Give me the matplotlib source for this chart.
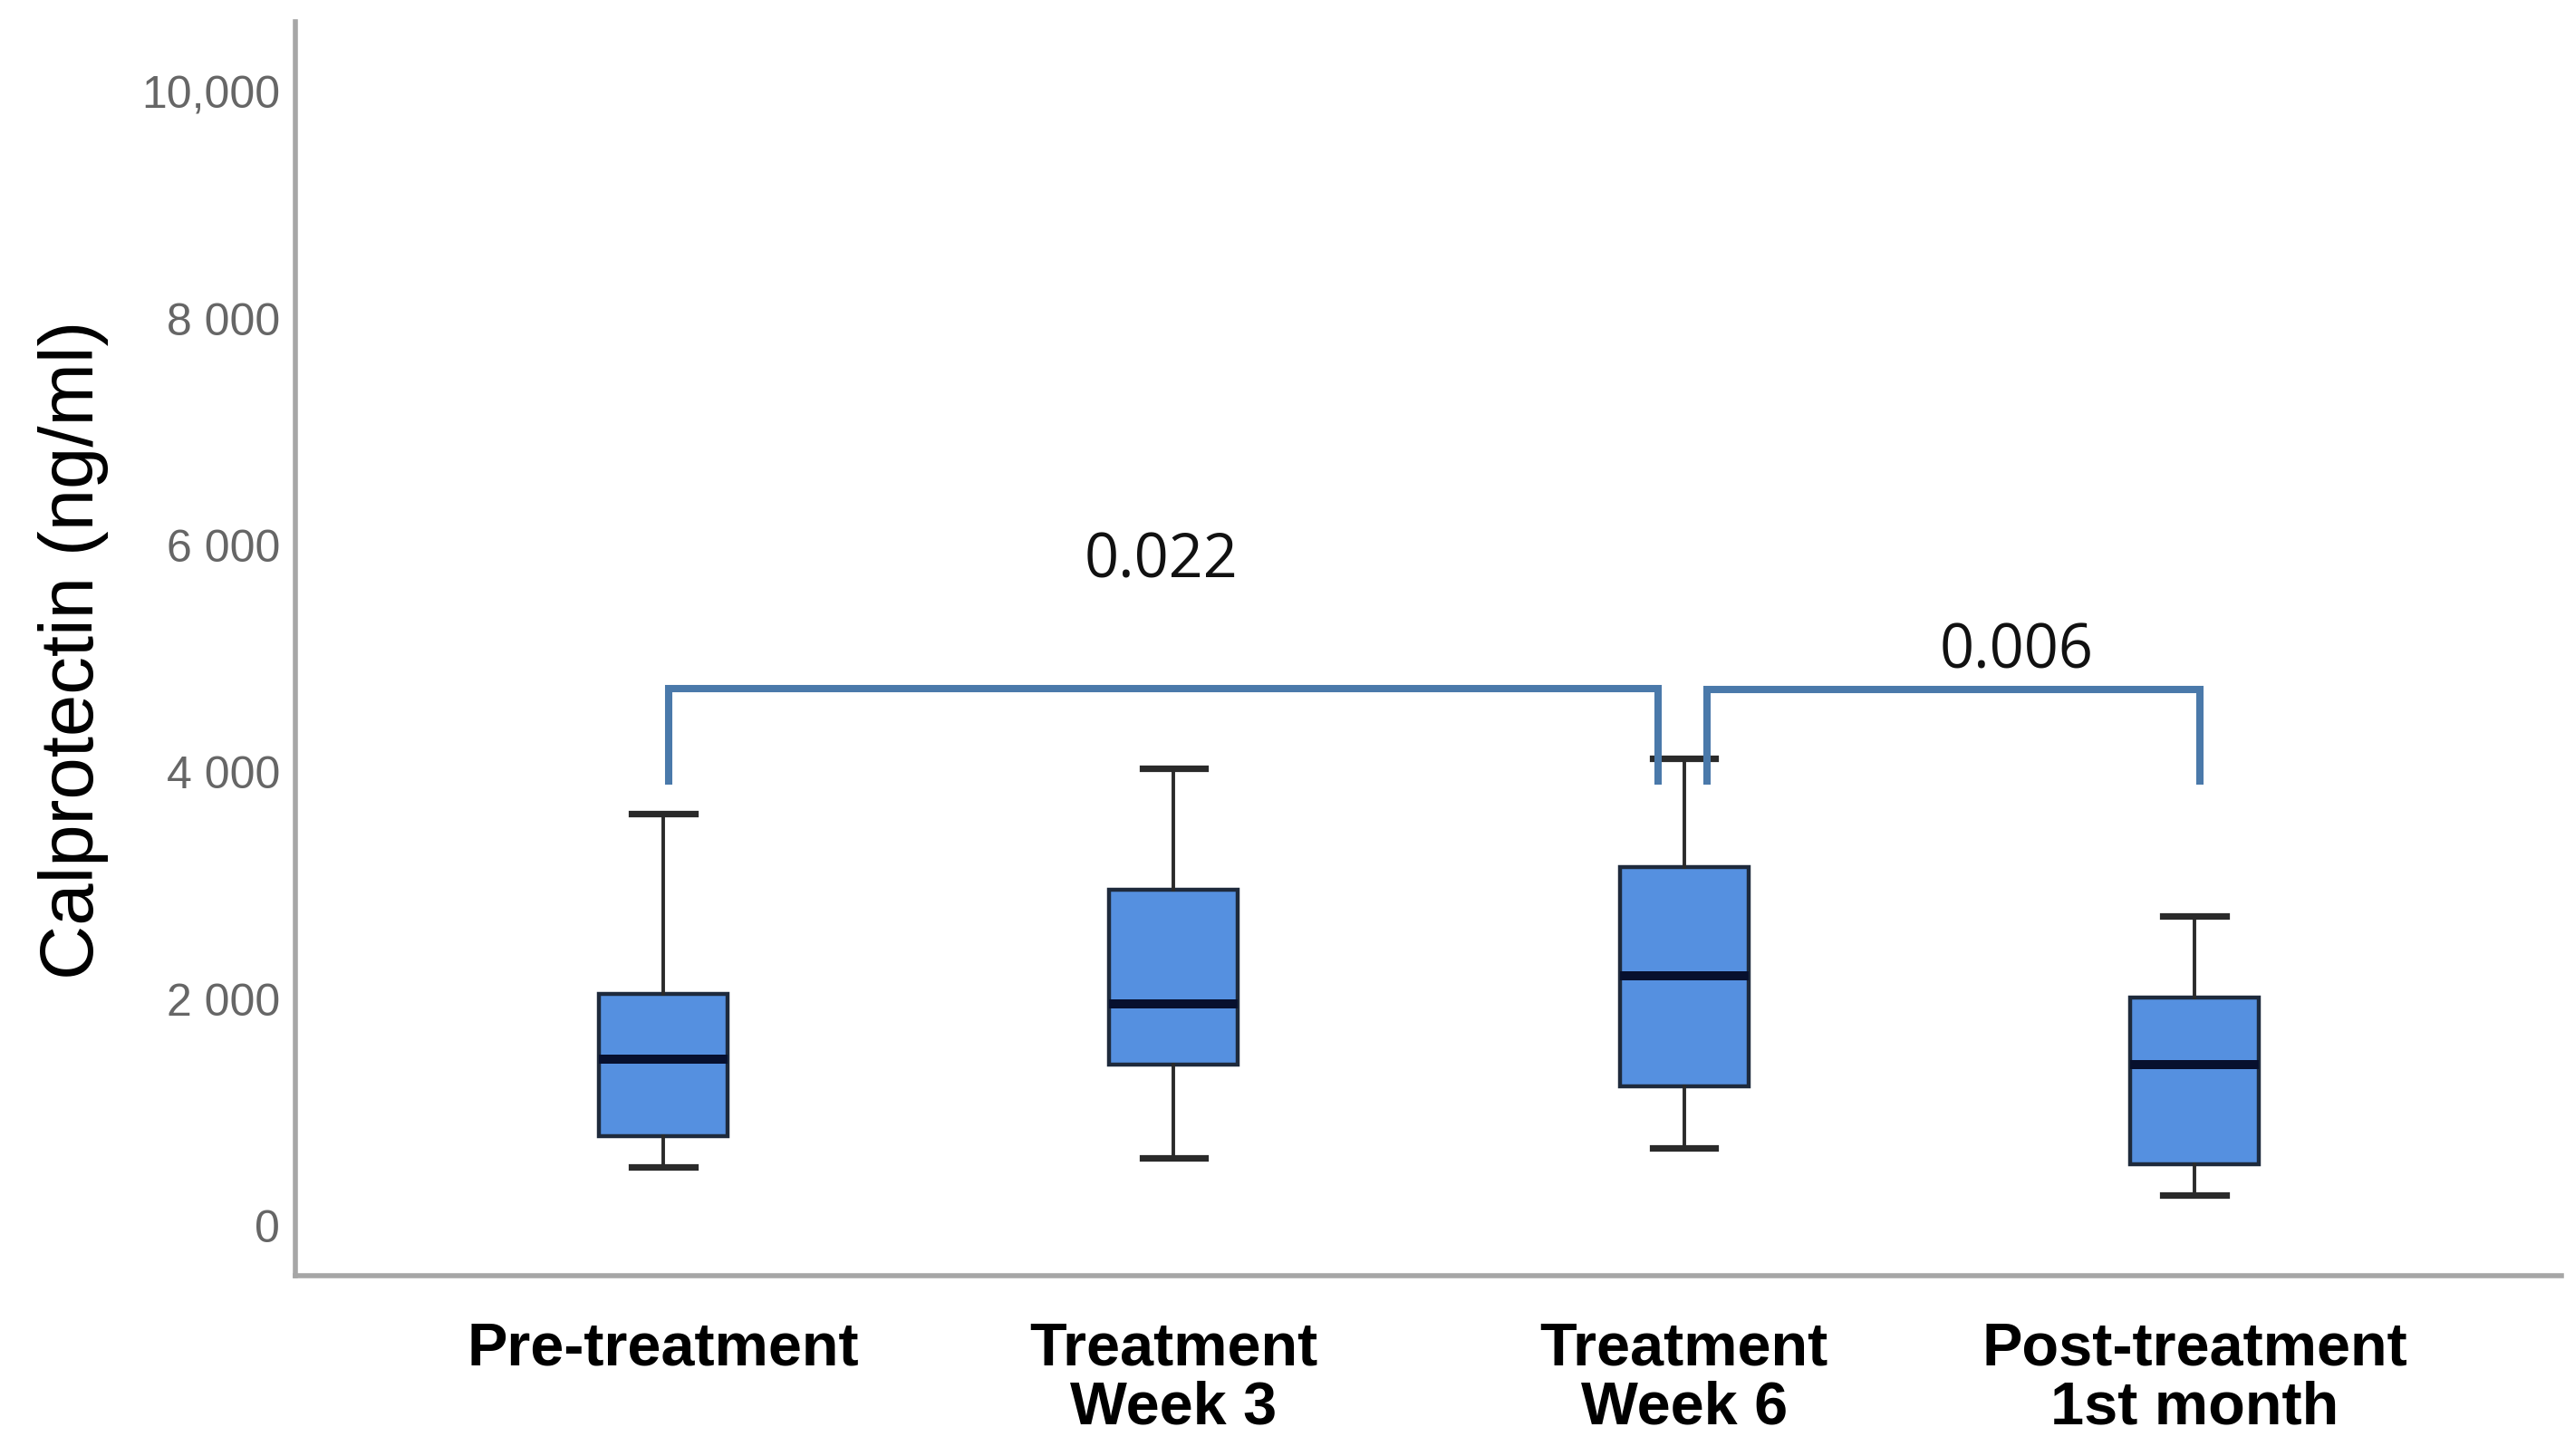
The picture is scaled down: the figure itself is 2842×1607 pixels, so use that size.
import matplotlib
matplotlib.use("Agg")
import matplotlib.pyplot as plt
from matplotlib.ticker import FixedLocator

# ---- data ----
categories = ["Pre-treatment", "Treatment\nWeek 3", "Treatment\nWeek 6", "Post-treatment\n1st month"]
whisker_low = [511, 594, 678, 265]
q1 = [787, 1413, 1220, 538]
median = [1463, 1952, 2195, 1413]
q3 = [2042, 2957, 3157, 2008]
whisker_high = [3625, 4025, 4115, 2724]

y_ticks = [0, 2000, 4000, 6000, 8000, 10000]
y_tick_labels = ["0", "2 000", "4 000", "6 000", "8 000", "10,000"]

# significance brackets
bracket_left = [0.01, 2.045]
bracket_right = [1.95, 3.01]
bracket_top = [4730, 4720]
bracket_bottom = [3880, 3880]
p_labels = ["0.022", "0.006"]
p_label_x = [0.975, 2.652]
p_label_y = [5860, 5060]

fig = plt.figure(figsize=(14.21, 8.04), dpi=200)
ax = fig.add_axes([0.1147, 0.1238, 0.88, 0.8607])

stats = []
for i, name in enumerate(categories):
    stats.append(dict(label=name, whislo=whisker_low[i], q1=q1[i], med=median[i],
                      q3=q3[i], whishi=whisker_high[i], fliers=[]))

positions = list(range(len(categories)))
bp = ax.bxp(stats, positions=positions, widths=0.252, patch_artist=True,
            showfliers=False,
            boxprops=dict(facecolor="#5590e0", edgecolor="#1e2a3c", linewidth=1.6),
            medianprops=dict(color="#07102e", linewidth=3.6),
            whiskerprops=dict(color="#2a2a2a", linewidth=1.4),
            capprops=dict(color="#2a2a2a", linewidth=2.6),
            capwidths=0.123)

bracket_color = "#4a79aa"
for i in range(len(p_labels)):
    ax.plot([bracket_left[i], bracket_left[i], bracket_right[i], bracket_right[i]],
            [bracket_bottom[i], bracket_top[i], bracket_top[i], bracket_bottom[i]],
            color=bracket_color, linewidth=2.9, solid_joinstyle="miter",
            solid_capstyle="butt")
    ax.text(p_label_x[i], p_label_y[i], p_labels[i], ha="center", va="center",
            fontsize=24, family="Open Sans", color="#111111")

ax.set_xlim(-0.721, 3.719)
ax.set_ylim(-445, 10610)

ax.yaxis.set_major_locator(FixedLocator(y_ticks))
ax.set_yticklabels(y_tick_labels, fontsize=18, color="#666666", family="Liberation Sans")
ax.set_xticks(positions)
ax.set_xticklabels(categories, fontsize=24, fontweight="bold", family="Liberation Sans",
                   linespacing=1.05)
ax.tick_params(axis="y", length=0, pad=6)
ax.tick_params(axis="x", length=0, pad=18)

ax.set_ylabel("Calprotectin (ng/ml)", fontsize=30, family="Liberation Sans", labelpad=13)

for side in ["top", "right"]:
    ax.spines[side].set_visible(False)
for side in ["left", "bottom"]:
    ax.spines[side].set_color("#a6a6a6")
    ax.spines[side].set_linewidth(2.0)

fig.savefig("out.png", dpi=200)
